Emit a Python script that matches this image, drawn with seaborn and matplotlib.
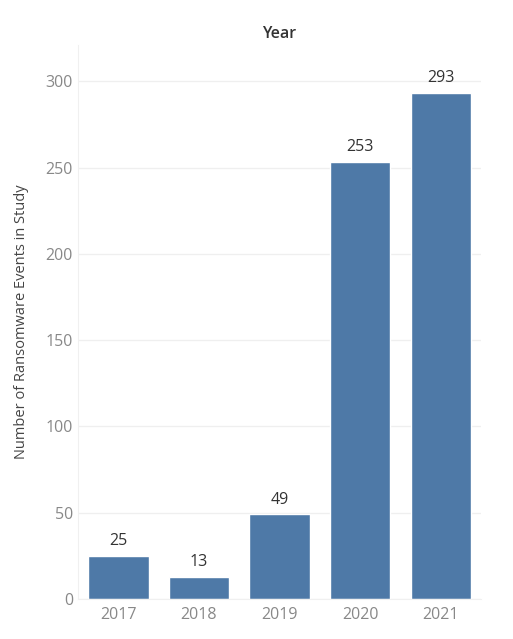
import pandas as pd
import matplotlib.pyplot as plt
import seaborn as sns

years = ['2017', '2018', '2019', '2020', '2021']
events = [25, 13, 49, 253, 293]

df = pd.DataFrame({'Year': years, 'Events': events})

sns.set_style('white')
plt.rcParams['font.family'] = ['Open Sans', 'DejaVu Sans']

fig = plt.figure(figsize=(5.13, 6.39), dpi=100)
ax = fig.add_axes([0.152, 0.0626, 0.786, 0.867])

sns.barplot(data=df, x='Year', y='Events', color='#4e79a7', saturation=1,
            width=0.75, ax=ax)

for i, v in enumerate(events):
    ax.text(i, v + 4, str(v), ha='center', va='bottom', fontsize=11.5, color='#333333')

ax.set_ylim(0, 321)
ax.set_yticks([0, 50, 100, 150, 200, 250, 300])
ax.set_xlim(-0.5, 4.5)
ax.grid(axis='y', color='#efefef', linewidth=0.9)
ax.set_axisbelow(True)
for s in ['top', 'right']:
    ax.spines[s].set_visible(False)
ax.spines['left'].set_color('#f0f0f0')
ax.spines['bottom'].set_color('#f0f0f0')
ax.tick_params(axis='both', length=0, labelsize=11.5, labelcolor='#888888')
ax.tick_params(axis='x', pad=6)
ax.set_xlabel('')
ax.set_ylabel('Number of Ransomware Events in Study', fontsize=10.5, color='#444444', labelpad=12)
ax.set_title('Year', fontsize=11.5, color='#333333', fontweight='semibold', pad=5)

fig.savefig('out.png', dpi=100)
